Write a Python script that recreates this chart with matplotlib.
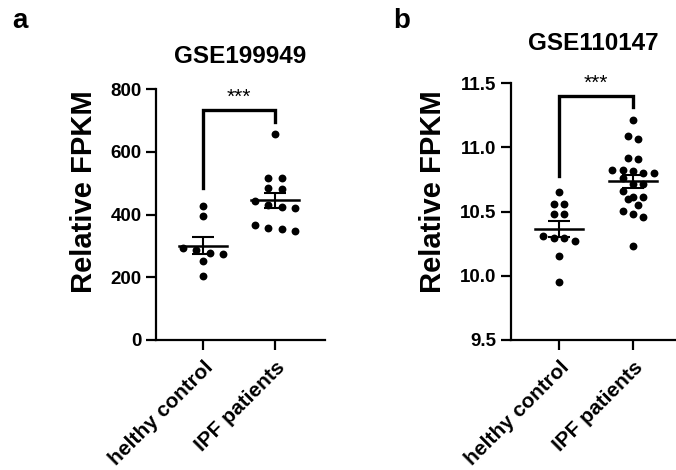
import matplotlib
matplotlib.use("Agg")
import matplotlib.pyplot as plt
import numpy as np

plt.rcParams['font.family'] = ['Liberation Sans', 'DejaVu Sans']
plt.rcParams['font.weight'] = 'bold'

# data
groups = ['helthy control', 'IPF patients']

# panel a - GSE199949
healthy_a = [427, 395, 277, 275, 286, 293, 251, 203]
ipf_a = [656, 517, 515, 480, 484, 443, 421, 424, 429, 368, 355, 357, 347]

# panel b - GSE110147
healthy_b = [10.651, 10.562, 10.562, 10.484, 10.484, 10.294, 10.307, 10.271,
             10.294, 10.156, 9.948]
ipf_b = [11.213, 11.068, 11.09, 10.911, 10.917, 10.797, 10.815, 10.802, 10.82,
         10.82, 10.763, 10.711, 10.711, 10.66, 10.594, 10.615, 10.615, 10.549,
         10.502, 10.458, 10.481, 10.229]


def swarm(vals, bin_h, step):
    # graphpad-ish: group close values in rows, centre each row
    vals = np.asarray(vals)
    order = np.argsort(-vals, kind='stable')
    rows, cur = [], [order[0]]
    for i in order[1:]:
        if vals[cur[0]] - vals[i] < bin_h:
            cur.append(i)
        else:
            rows.append(cur)
            cur = [i]
    rows.append(cur)
    offs = np.zeros(len(vals))
    for r in rows:
        for k, i in enumerate(r):
            offs[i] = (k - (len(r) - 1) / 2) * step
    return offs


def panel(ax, data, ylim, yticks, fmt, bracket, title, title_pad, bin_h, step):
    for x, vals in enumerate(data):
        vals = np.asarray(vals)
        xs = x + swarm(vals, bin_h, step)
        ax.scatter(xs, vals, s=32, color='black', zorder=3, linewidths=0)
        m = vals.mean()
        sem = vals.std(ddof=1) / np.sqrt(len(vals))
        ax.plot([x - 0.33, x + 0.33], [m, m], color='black', lw=1.8, zorder=4)
        ax.errorbar(x, m, yerr=sem, color='black', lw=1.5, capsize=8,
                    capthick=1.5, zorder=4)
    y0, ytop, y1, ystar = bracket
    ax.plot([0, 0, 1, 1], [y0, ytop, ytop, y1], color='black', lw=2.4,
            solid_joinstyle='miter', clip_on=False)
    ax.text(0.5, ystar, '***', ha='center', va='center', fontsize=15,
            fontweight='normal', clip_on=False)
    ax.set_ylim(*ylim)
    ax.set_yticks(yticks)
    ax.set_yticklabels([fmt.format(v) for v in yticks])
    ax.set_xticks([0, 1])
    ax.set_xticklabels(groups, rotation=45, ha='right', rotation_mode='anchor',
                       fontsize=15)
    ax.tick_params(axis='both', width=1.6, length=7, labelsize=13.5)
    ax.tick_params(axis='x', labelsize=15, pad=6)
    for s in ['top', 'right']:
        ax.spines[s].set_visible(False)
    for s in ['left', 'bottom']:
        ax.spines[s].set_linewidth(1.6)
    ax.set_ylabel('Relative FPKM', fontsize=21, fontweight='bold')
    ax.set_title(title, fontsize=17.5, fontweight='bold', pad=title_pad)


fig = plt.figure(figsize=(6.76, 4.70), dpi=100)
W, H = 676, 470

ax1 = fig.add_axes([156 / W, 1 - 340 / H, (325 - 156) / W, (340 - 89) / H])
ax1.set_xlim(-0.653, 1.694)
panel(ax1, [healthy_a, ipf_a], (0, 800), [0, 200, 400, 600, 800], '{:.0f}',
      (486, 734, 695, 772), 'GSE199949', 19, 23, 0.185)
ax1.yaxis.set_label_coords(-0.343, 0.59)

ax2 = fig.add_axes([511 / W, 1 - 340 / H, (676 - 511) / W, (340 - 83) / H])
ax2.set_xlim(-0.649, 1.58)
panel(ax2, [healthy_b, ipf_b], (9.5, 11.5), [9.5, 10.0, 10.5, 11.0, 11.5],
      '{:.1f}', (10.776, 11.40, 11.31, 11.50), 'GSE110147', 24, 0.055, 0.14)
ax2.yaxis.set_label_coords(-0.388, 0.576)

fig.text(12 / W, 1 - 28 / H, 'a', fontsize=20, fontweight='bold')
fig.text(393 / W, 1 - 28 / H, 'b', fontsize=20, fontweight='bold')

fig.savefig('out.png', dpi=100)
